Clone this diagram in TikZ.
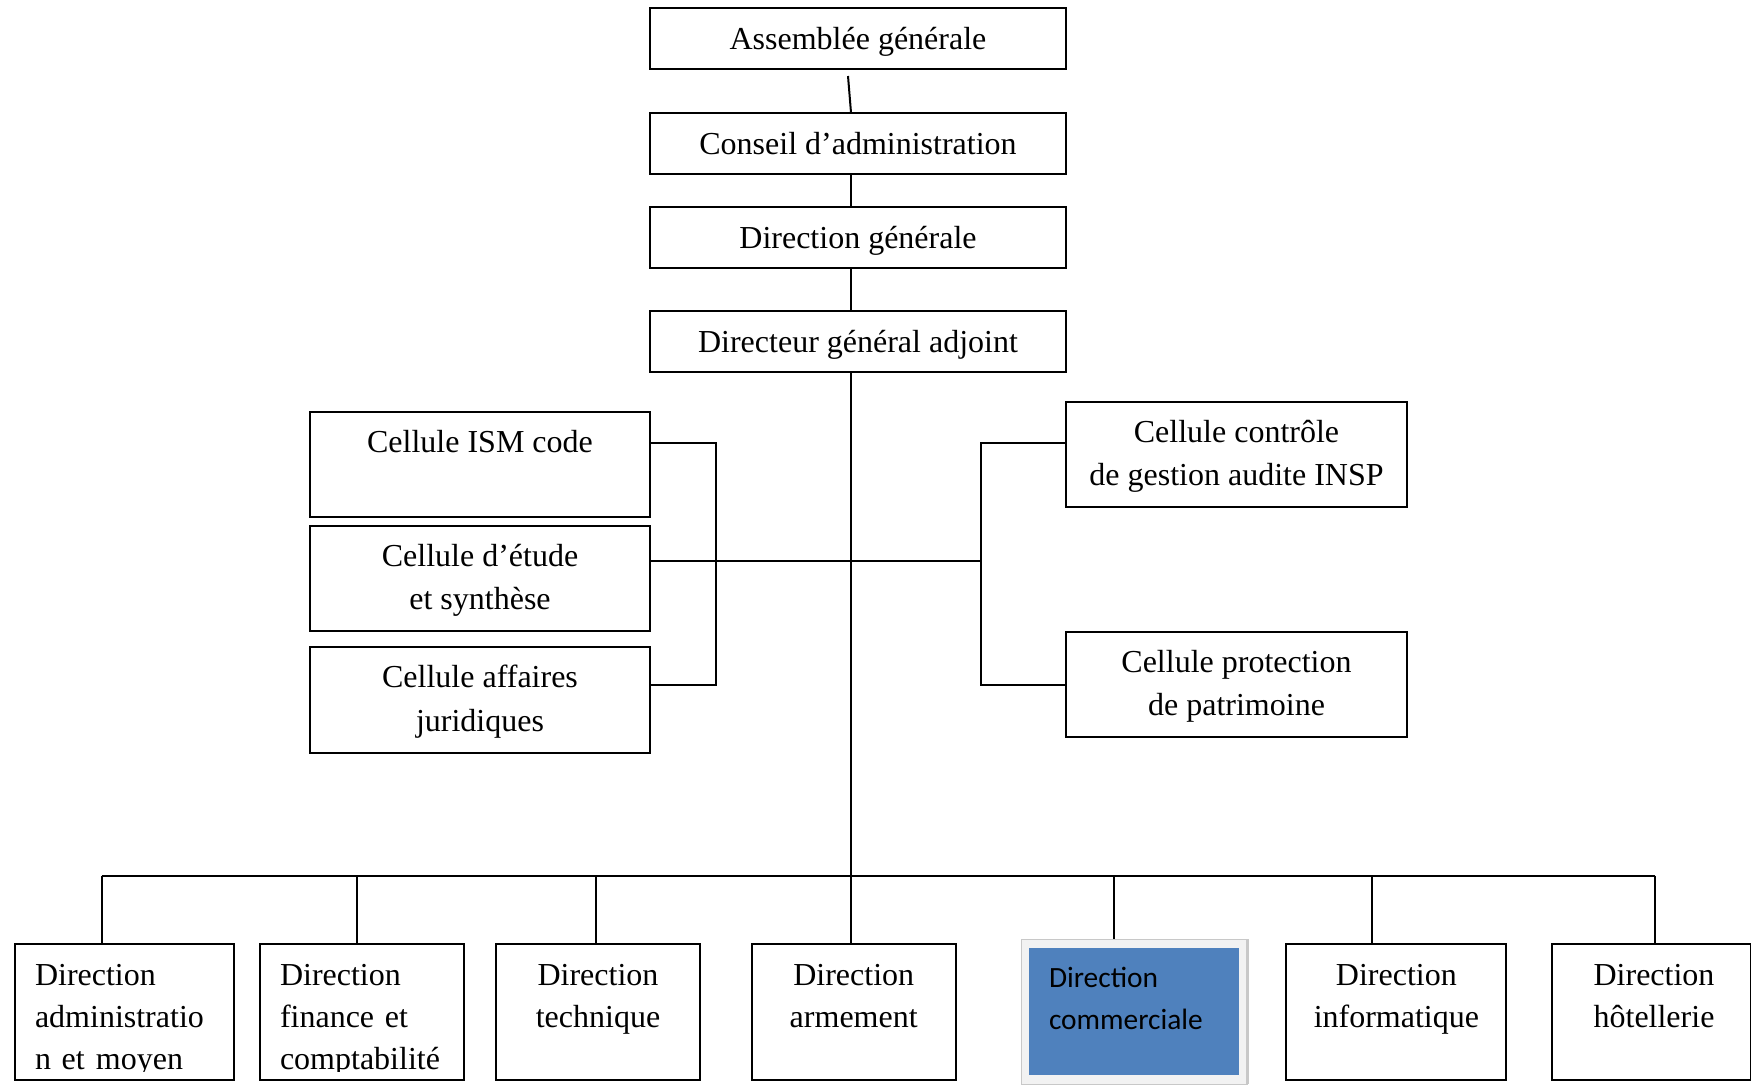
\documentclass[tikz,border=0pt]{standalone}
\usepackage{fontspec}
\setmainfont{Liberation Serif}
\newfontfamily\carl{Carlito}
\definecolor{offblue}{HTML}{4F81BD}
\definecolor{framegray}{HTML}{F2F2F2}
\definecolor{shadegray}{HTML}{C8C8C8}
\begin{document}
\begin{tikzpicture}[x=0.5pt,y=-0.5pt,
  box/.style={draw, line width=1pt, inner sep=0pt, outer sep=0pt, align=center, font=\fontsize{16}{21}\selectfont},
  topbox/.style={box, minimum width=208pt, minimum height=30.5pt, text height=11pt, text depth=0pt},
  sidebox/.style={box, minimum width=170pt, minimum height=52.5pt},
  lowbox/.style={box, minimum height=68pt},
  lbl/.style={inner sep=0pt, outer sep=0pt, font=\fontsize{16}{21}\selectfont},
  sidelbl/.style={inner sep=0pt, outer sep=0pt, align=center, font=\fontsize{16}{21.8}\selectfont},
  link/.style={line width=1pt}]
\useasboundingbox (0,0) rectangle (1751,1084);
\fill[white] (0,0) rectangle (1751,1084);

% top chain
\node[topbox] (ag)  at (858,38.5)  {Assemblée générale};
\node[topbox] (ca)  at (858,143)   {Conseil d’administration};
\node[topbox] (dg)  at (858,237)   {Direction générale};
\node[topbox] (dga) at (858,341.5) {Directeur général adjoint};

% side cells
\node[sidebox] (ism)   at (480,464.5) {};
\node[sidebox] (etude) at (480,578.5) {};
\node[sidebox, minimum height=53pt] (jur) at (480,700) {};
\node[sidebox, minimum width=170.5pt] (ctrl) at (1236.5,454.5) {};
\node[sidebox, minimum width=170.5pt] (prot) at (1236.5,684.5) {};
\node[sidelbl] (ismt)   at ([yshift=0.7pt]ism.center)    {Cellule ISM code\\\mbox{}};
\node[sidelbl] (etudet) at ([yshift=-0.85pt]etude.center) {Cellule d’étude\\et synthèse};
\node[sidelbl] (jurt)   at ([yshift=-0.85pt]jur.center)   {Cellule affaires\\juridiques};
\node[sidelbl] (ctrlt)  at ([yshift=-0.85pt]ctrl.center)  {Cellule contrôle\\de gestion audite INSP};
\node[sidelbl] (prott)  at ([yshift=-0.85pt]prot.center)  {Cellule protection\\de patrimoine};

% bottom directions
\node[lowbox, minimum width=109.5pt] (b1) at (124,1011.7) {};
\node[lowbox, minimum width=102pt]   (b2) at (362.4,1011.7) {};
\node[lowbox, minimum width=102pt]   (b3) at (598,1011.7) {};
\node[lowbox, minimum width=102pt]   (b4) at (853.7,1011.7) {};
\node[fill=framegray, draw=shadegray, line width=0.5pt, inner sep=0pt, outer sep=0pt,
      minimum width=112.75pt, minimum height=72.5pt] (comframe) at (1134.55,1011.5) {};
\draw[shadegray, line width=1.5pt] (comframe.north east) -- (comframe.south east);
\node[fill=offblue, inner sep=0pt, outer sep=0pt, minimum width=105pt, minimum height=63.7pt] (b5) at (1133.5,1011.7) {};
\node[lowbox, minimum width=110pt]   (b6) at (1396.4,1011.7) {};
\node[lowbox, minimum width=99.15pt] (b7) at (1651.35,1011.7) {};

\begin{scope}
\clip (0,0) rectangle (1751,1071);
\node[lbl, anchor=base west, text width=150pt, align=left] (t1) at (35,985) {Direction\\administratio\\n et\hspace{0.35em}moyen};
\node[lbl, anchor=base west, text width=150pt, align=left] (t2) at (280,985) {Direction\\finance et\\comptabilité};
\end{scope}
\node[lbl, anchor=base, text width=102pt, align=center] (t3) at (b3.center |- 0,985) {Direction\\technique};
\node[lbl, anchor=base, text width=102pt, align=center] (t4) at (b4.center |- 0,985) {Direction\\armement};
\node[inner sep=0pt, anchor=base west, text width=100pt, align=left, font=\carl\fontsize{14.7}{20.8}\selectfont] (t5) at (1048.6,987.5) {Direction\\commerciale};
\node[lbl, anchor=base, text width=110pt, align=center] (t6) at (b6.center |- 0,985) {Direction\\informatique};
\node[lbl, anchor=base, text width=98pt, align=center] (t7) at (1654,985) {Direction\\hôtellerie};

% connectors
\coordinate (agfoot) at (848,76);
\coordinate (sp) at (850.5,0);
\draw[link] (agfoot) -- ([xshift=1.5pt]agfoot |- ca.north);
\draw[link] (ca.south -| sp) -- (dg.north -| sp);
\draw[link] (dg.south -| sp) -- (dga.north -| sp);
\draw[link] (dga.south -| sp) -- (b4.north -| sp);

\coordinate (lb1) at (716,443);
\coordinate (lb2) at (716,685);
\coordinate (rb1) at (981,443);
\coordinate (rb2) at (981,685);
\coordinate (mid) at (981,561);
\draw[link] (ism.east |- lb1) -- (lb1) -- (lb2) -- (jur.east |- lb2);
\draw[link] (etude.east |- mid) -- (mid);
\draw[link] (ctrl.west |- rb1) -- (rb1) -- (rb2) -- (prot.west |- rb2);

\coordinate (d1) at (101.6,875.5);
\coordinate (d2) at (357.3,875.5);
\coordinate (d3) at (596.3,875.5);
\coordinate (d5) at (1114.4,875.5);
\coordinate (d6) at (1372.4,875.5);
\coordinate (d7) at (1655,875.5);
\draw[link] (d1) -- (d7);
\draw[link] (d1) -- (d1 |- b1.north);
\draw[link] (d2) -- (d2 |- b2.north);
\draw[link] (d3) -- (d3 |- b3.north);
\draw[link] (d5) -- (d5 |- comframe.north);
\draw[link] (d6) -- (d6 |- b6.north);
\draw[link] (d7) -- (d7 |- b7.north);
\end{tikzpicture}
\end{document}
